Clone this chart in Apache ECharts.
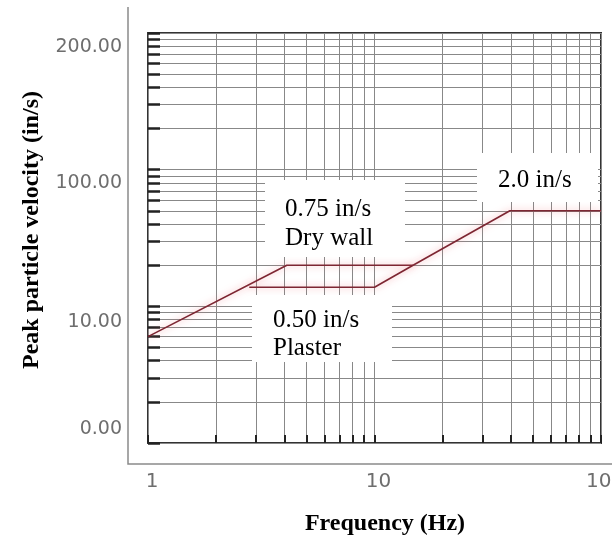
<!DOCTYPE html>
<html><head><meta charset="utf-8">
<script src="https://cdn.jsdelivr.net/npm/echarts@6/dist/echarts.min.js"></script>
<style>html,body{margin:0;padding:0;background:#fff}#c{width:612px;height:544px}</style>
</head><body><div id="c"></div>
<script>
// Frequency (Hz) and axis values
const dryFreq = [1, 4.1, 14.8, 39.6, 100];
const dryVel = [6, 20, 20, 50, 50];
const plasterFreq = [2.8, 10, 14.8];
const plasterVel = [13.8, 13.8, 20];

const xTickLabels = [1, 10, 100];
const yTickLabels = ['0.00', '10.00', '100.00', '200.00'];
const yTickLabelAt = [1.27, 7.68, 79.9, 790];

const xGridValues = [];
[1, 10].forEach(d => { for (let m = 1; m <= 9; m++) xGridValues.push(m * d); });
xGridValues.push(100);
const yGridValues = [];
[1, 10, 100].forEach(d => { for (let m = 1; m <= 9; m++) yGridValues.push(m * d); });
yGridValues.push(1000);

const chart = echarts.init(document.getElementById('c'));
const lineStyle = { color: '#7d2632', width: 1.6, shadowColor: 'rgba(240,110,120,0.65)', shadowBlur: 7 };
const gridLine = { color: '#888', width: 1 };

chart.setOption({
  animation: false,
  backgroundColor: '#fff',
  grid: { left: 148, top: 33, right: 11, bottom: 101, show: true, borderColor: '#333', borderWidth: 2, backgroundColor: '#fff',
          containLabel: false, outerBoundsMode: 'none' },
  xAxis: {
    type: 'log', logBase: 10, min: 1, max: 100,
    axisLine: { show: false },
    axisTick: { show: true, inside: true, length: 8, customValues: xGridValues, lineStyle: { color: '#222', width: 2 } },
    splitLine: { show: true, lineStyle: gridLine },
    axisLabel: { customValues: xTickLabels, margin: 29, color: '#6e6e6e', fontFamily: 'DejaVu Sans', fontSize: 20, padding: [0, 0, 0, 8], hideOverlap: false },
    name: 'Frequency (Hz)', nameLocation: 'middle', nameGap: 69,
    nameTextStyle: { fontFamily: 'Liberation Serif', fontWeight: 'bold', fontSize: 24, color: '#000', padding: [0, 0, 0, 21] }
  },
  yAxis: {
    type: 'log', logBase: 10, min: 1, max: 1000,
    axisLine: { show: false },
    axisTick: { show: true, inside: true, length: 12, customValues: yGridValues, lineStyle: { color: '#222', width: 2.5 } },
    splitLine: { show: true, lineStyle: gridLine },
    axisLabel: {
      customValues: yTickLabelAt, margin: 26, color: '#6e6e6e', fontFamily: 'DejaVu Sans', fontSize: 19,
      formatter: function (v) {
        let best = 0, bd = Infinity;
        yTickLabelAt.forEach((a, i) => { const d = Math.abs(Math.log(a) - Math.log(v)); if (d < bd) { bd = d; best = i; } });
        return yTickLabels[best];
      }
    },
    name: 'Peak particle velocity (in/s)', nameLocation: 'middle', nameGap: 104,
    nameTextStyle: { fontFamily: 'Liberation Serif', fontWeight: 'bold', fontSize: 24, color: '#000', padding: [0, 0, 0, 16] }
  },
  series: [
    { name: 'Dry wall', type: 'line', symbol: 'none', lineStyle: lineStyle, z: 3,
      data: dryFreq.map((f, i) => [f, dryVel[i]]) },
    { name: 'Plaster', type: 'line', symbol: 'none', lineStyle: lineStyle, z: 3,
      data: plasterFreq.map((f, i) => [f, plasterVel[i]]) }
  ],
  graphic: [
    { type: 'polyline', z: 1, shape: { points: [[128, 7], [128, 464], [612, 464]] }, style: { stroke: '#8a8a8a', lineWidth: 1.5, fill: null } },
    { type: 'rect', z: 10, shape: { x: 265, y: 180, width: 140, height: 77 }, style: { fill: '#fff' } },
    { type: 'text', z: 11, left: 285, top: 195, style: { text: '0.75 in/s\nDry wall', font: '25px "Liberation Serif"', fill: '#000', lineHeight: 29 } },
    { type: 'rect', z: 10, shape: { x: 252, y: 295, width: 140, height: 67 }, style: { fill: '#fff' } },
    { type: 'text', z: 11, left: 273, top: 306, style: { text: '0.50 in/s\nPlaster', font: '25px "Liberation Serif"', fill: '#000', lineHeight: 28 } },
    { type: 'rect', z: 10, shape: { x: 477, y: 153, width: 121, height: 49 }, style: { fill: '#fff' } },
    { type: 'text', z: 11, left: 498, top: 166, style: { text: '2.0 in/s', font: '25px "Liberation Serif"', fill: '#000', lineHeight: 29 } }
  ]
});
</script>
</body></html>
